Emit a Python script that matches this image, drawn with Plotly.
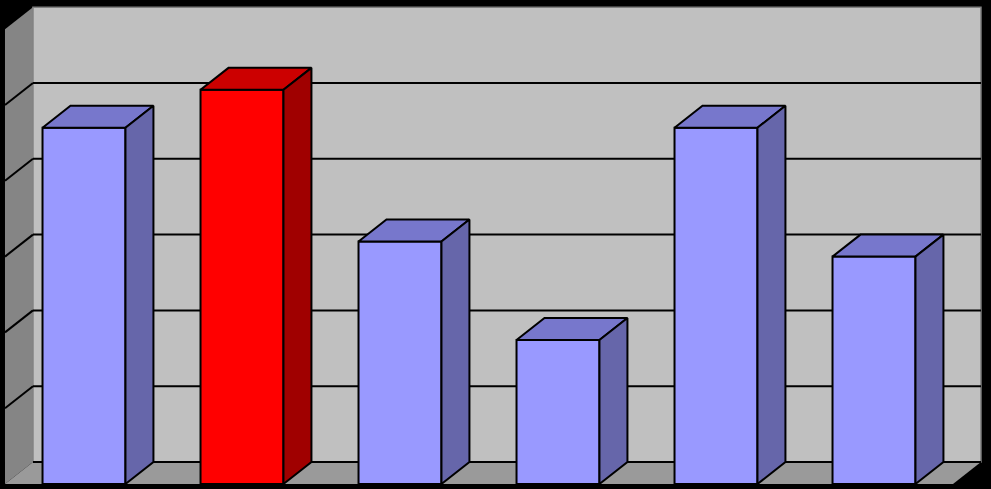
import plotly.graph_objects as go

# chart data
categories = ["1", "2", "3", "4", "5", "6"]
values = [4.7, 5.2, 3.2, 1.9, 4.7, 3.0]
highlight = [False, True, False, False, False, False]
y_ticks = [0, 1, 2, 3, 4, 5, 6]

# 3d look
bar_w = 0.525
dx = 0.177   # depth offset in category units
dy = 0.29    # depth offset in value units
x_lo, x_hi = -0.5, len(categories) - 0.5
y_top = y_ticks[-1]

blue = {"front": "#9999FF", "top": "#7777CC", "side": "#6666AA"}
red = {"front": "#FF0000", "top": "#CC0000", "side": "#A00000"}

idx = list(range(len(categories)))

fig = go.Figure()

# front faces
fig.add_trace(go.Bar(
    x=idx, y=values, width=bar_w,
    marker=dict(color=[red["front"] if h else blue["front"] for h in highlight],
                line=dict(color="black", width=2)),
    hoverinfo="skip",
))

# top and side faces
for i, v, h in zip(idx, values, highlight):
    pal = red if h else blue
    l, r = i - bar_w / 2, i + bar_w / 2
    fig.add_trace(go.Scatter(
        x=[l, l + dx, r + dx, r, l], y=[v, v + dy, v + dy, v, v],
        fill="toself", fillcolor=pal["top"], mode="lines",
        line=dict(color="black", width=2), hoverinfo="skip",
    ))
    fig.add_trace(go.Scatter(
        x=[r, r, r + dx, r + dx, r], y=[0, v, v + dy, dy, 0],
        fill="toself", fillcolor=pal["side"], mode="lines",
        line=dict(color="black", width=2), hoverinfo="skip",
    ))

shapes = []
# back wall
shapes.append(dict(type="rect", xref="x", yref="y", layer="below",
                   x0=x_lo + dx, x1=x_hi + dx, y0=dy, y1=y_top + dy,
                   fillcolor="#C0C0C0", line=dict(color="#808080", width=1.5)))
# left wall
shapes.append(dict(type="path", xref="x", yref="y", layer="below",
                   path=f"M {x_lo},0 L {x_lo + dx},{dy} L {x_lo + dx},{y_top + dy} L {x_lo},{y_top} Z",
                   fillcolor="#858585", line=dict(width=0)))
# floor
shapes.append(dict(type="path", xref="x", yref="y", layer="below",
                   path=f"M {x_lo},0 L {x_hi},0 L {x_hi + dx},{dy} L {x_lo + dx},{dy} Z",
                   fillcolor="#9A9A9A", line=dict(width=0)))
# gridlines
for t in y_ticks[:-1]:
    shapes.append(dict(type="line", xref="x", yref="y", layer="below",
                       x0=x_lo + dx, x1=x_hi + dx, y0=t + dy, y1=t + dy,
                       line=dict(color="black", width=2)))
    if t > 0:
        shapes.append(dict(type="line", xref="x", yref="y", layer="below",
                           x0=x_lo, x1=x_lo + dx, y0=t, y1=t + dy,
                           line=dict(color="black", width=2)))

fig.update_layout(
    width=991, height=489,
    margin=dict(l=0, r=0, t=0, b=0),
    paper_bgcolor="black", plot_bgcolor="black",
    showlegend=False,
    shapes=shapes,
    xaxis=dict(range=[-0.5316, 5.7405], showgrid=False, zeroline=False,
               showticklabels=False, fixedrange=True),
    yaxis=dict(range=[-0.066, 6.385], showgrid=False, zeroline=False,
               showticklabels=False, fixedrange=True),
)

# drop the default page margin so the figure fills the window
fig.write_html("out.html", config={"displayModeBar": False},
               post_script="document.body.style.margin='0';document.body.style.background='black';")
